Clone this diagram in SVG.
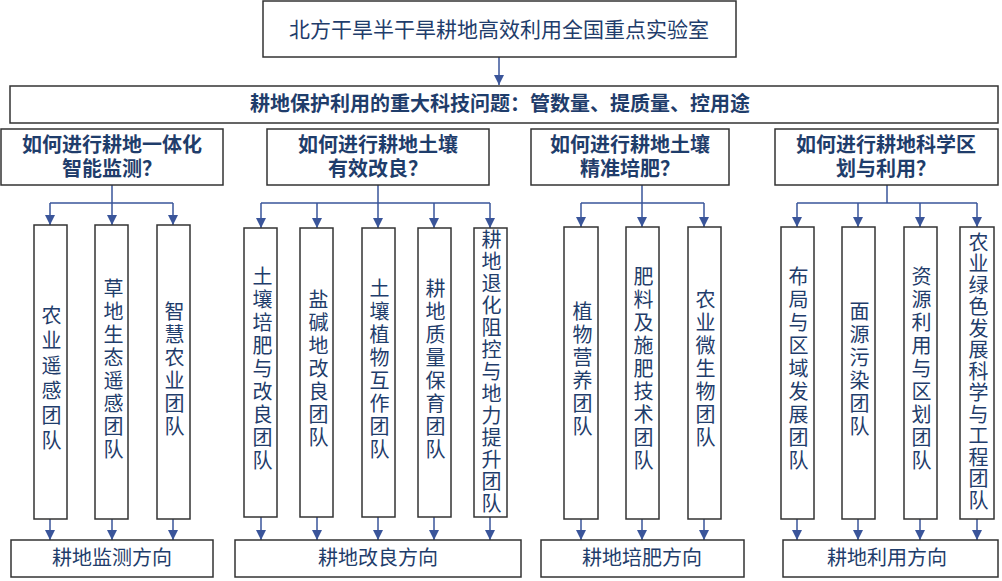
<svg xmlns="http://www.w3.org/2000/svg" width="1002" height="581" viewBox="0 0 1002 581">
<defs>
<marker id="ar" markerWidth="10" markerHeight="10" refX="10" refY="5" orient="auto" markerUnits="userSpaceOnUse" viewBox="0 0 10 10"><path d="M0,0 L10,5 L0,10 Z" fill="#3a559a"/></marker>
<style>
.b{fill:#fff;stroke:#333;stroke-width:1.5}
.t{fill:#1f3d6b;font-family:"Liberation Sans","Noto Sans CJK SC",sans-serif;text-anchor:middle;dominant-baseline:central}
.bd{font-weight:bold;font-size:20px}
.v{writing-mode:vertical-rl;font-size:20px;letter-spacing:3px}
.c{fill:none;stroke:#3a559a;stroke-width:1.5}
</style>
</defs>
<g id="connectors">
<path class="c" d="M499,57V85" marker-end="url(#ar)"/>
<path class="c" d="M112,185V203M50,203H173M50,203V223M112,203V223M173,203V223"/>
<path class="c" d="M378,185V203M261,203H490M261,203V226M317,203V226M378,203V226M434,203V226M490,203V226"/>
<path class="c" d="M642,185V203M581,203H704M581,203V225M642,203V225M704,203V225"/>
<path class="c" d="M887,185V203M797,203H977M797,203V225M858,203V225M920,203V225M977,203V225"/>
<g marker-end="url(#ar)" class="c">
<path d="M50,215V225"/><path d="M112,215V225"/><path d="M173,215V225"/>
<path d="M261,218V228"/><path d="M317,218V228"/><path d="M378,218V228"/><path d="M434,218V228"/><path d="M490,218V228"/>
<path d="M581,217V227"/><path d="M642,217V227"/><path d="M704,217V227"/>
<path d="M797,217V227"/><path d="M858,217V227"/><path d="M920,217V227"/><path d="M977,217V227"/>
<path d="M50,519V540"/><path d="M112,519V540"/><path d="M173,519V540"/>
<path d="M261,517V540"/><path d="M317,517V540"/><path d="M378,517V540"/><path d="M434,517V540"/><path d="M490,517V540"/>
<path d="M581,519V540"/><path d="M642,519V540"/><path d="M704,519V540"/>
<path d="M797,519V540"/><path d="M858,519V540"/><path d="M920,519V540"/><path d="M977,519V540"/>
</g>
</g>
<g id="top"><rect class="b" x="263" y="1" width="473" height="56"/><text class="t" x="499" y="29" font-size="21">北方干旱半干旱耕地高效利用全国重点实验室</text></g>
<g id="problem"><rect class="b" x="10" y="86" width="988" height="37"/><text class="t bd" x="500" y="104">耕地保护利用的重大科技问题：管数量、提质量、控用途</text></g>
<g id="q1"><rect class="b" x="1" y="129" width="222" height="56"/><text class="t bd" x="112" y="145">如何进行耕地一体化</text><text class="t bd" x="112" y="169">智能监测？</text></g>
<g id="q2"><rect class="b" x="267" y="129" width="222" height="56"/><text class="t bd" x="378" y="145">如何进行耕地土壤</text><text class="t bd" x="378" y="169">有效改良？</text></g>
<g id="q3"><rect class="b" x="531" y="129" width="198" height="56"/><text class="t bd" x="630" y="145">如何进行耕地土壤</text><text class="t bd" x="630" y="169">精准培肥？</text></g>
<g id="q4"><rect class="b" x="775" y="129" width="223" height="56"/><text class="t bd" x="886" y="145">如何进行耕地科学区</text><text class="t bd" x="886" y="169">划与利用？</text></g>
<g id="teams">
<g id="t1"><rect class="b" x="34" y="225" width="33" height="294"/><text class="t v" x="50" y="380" style="letter-spacing:5px">农业遥感团队</text></g>
<g id="t2"><rect class="b" x="95" y="225" width="33" height="294"/><text class="t v" x="112" y="370">草地生态遥感团队</text></g>
<g id="t3"><rect class="b" x="157" y="225" width="33" height="294"/><text class="t v" x="173" y="370">智慧农业团队</text></g>
<g id="t4"><rect class="b" x="244" y="228" width="33" height="289"/><text class="t v" x="261" y="370">土壤培肥与改良团队</text></g>
<g id="t5"><rect class="b" x="300" y="228" width="33" height="289"/><text class="t v" x="317" y="370">盐碱地改良团队</text></g>
<g id="t6"><rect class="b" x="362" y="228" width="33" height="289"/><text class="t v" x="378" y="370">土壤植物互作团队</text></g>
<g id="t7"><rect class="b" x="418" y="228" width="33" height="289"/><text class="t v" x="434" y="370">耕地质量保育团队</text></g>
<g id="t8"><rect class="b" x="474" y="228" width="33" height="289"/><text class="t v" x="490" y="372" style="letter-spacing:2px">耕地退化阻控与地力提升团队</text></g>
<g id="t9"><rect class="b" x="564" y="227" width="34" height="292"/><text class="t v" x="581" y="370">植物营养团队</text></g>
<g id="t10"><rect class="b" x="626" y="227" width="33" height="292"/><text class="t v" x="642" y="370">肥料及施肥技术团队</text></g>
<g id="t11"><rect class="b" x="688" y="227" width="33" height="292"/><text class="t v" x="704" y="370">农业微生物团队</text></g>
<g id="t12"><rect class="b" x="781" y="227" width="33" height="292"/><text class="t v" x="797" y="370">布局与区域发展团队</text></g>
<g id="t13"><rect class="b" x="842" y="227" width="33" height="292"/><text class="t v" x="858" y="370">面源污染团队</text></g>
<g id="t14"><rect class="b" x="904" y="227" width="33" height="292"/><text class="t v" x="920" y="370">资源利用与区划团队</text></g>
<g id="t15"><rect class="b" x="960" y="227" width="34" height="292"/><text class="t v" x="977" y="372" style="letter-spacing:1.5px">农业绿色发展科学与工程团队</text></g>
</g>
<g id="d1"><rect class="b" x="11" y="540" width="202" height="37"/><text class="t" x="112" y="558" font-size="20">耕地监测方向</text></g>
<g id="d2"><rect class="b" x="235" y="540" width="286" height="37"/><text class="t" x="378" y="558" font-size="20">耕地改良方向</text></g>
<g id="d3"><rect class="b" x="541" y="540" width="203" height="37"/><text class="t" x="642" y="558" font-size="20">耕地培肥方向</text></g>
<g id="d4"><rect class="b" x="783" y="540" width="215" height="37"/><text class="t" x="887" y="558" font-size="20">耕地利用方向</text></g>
</svg>
